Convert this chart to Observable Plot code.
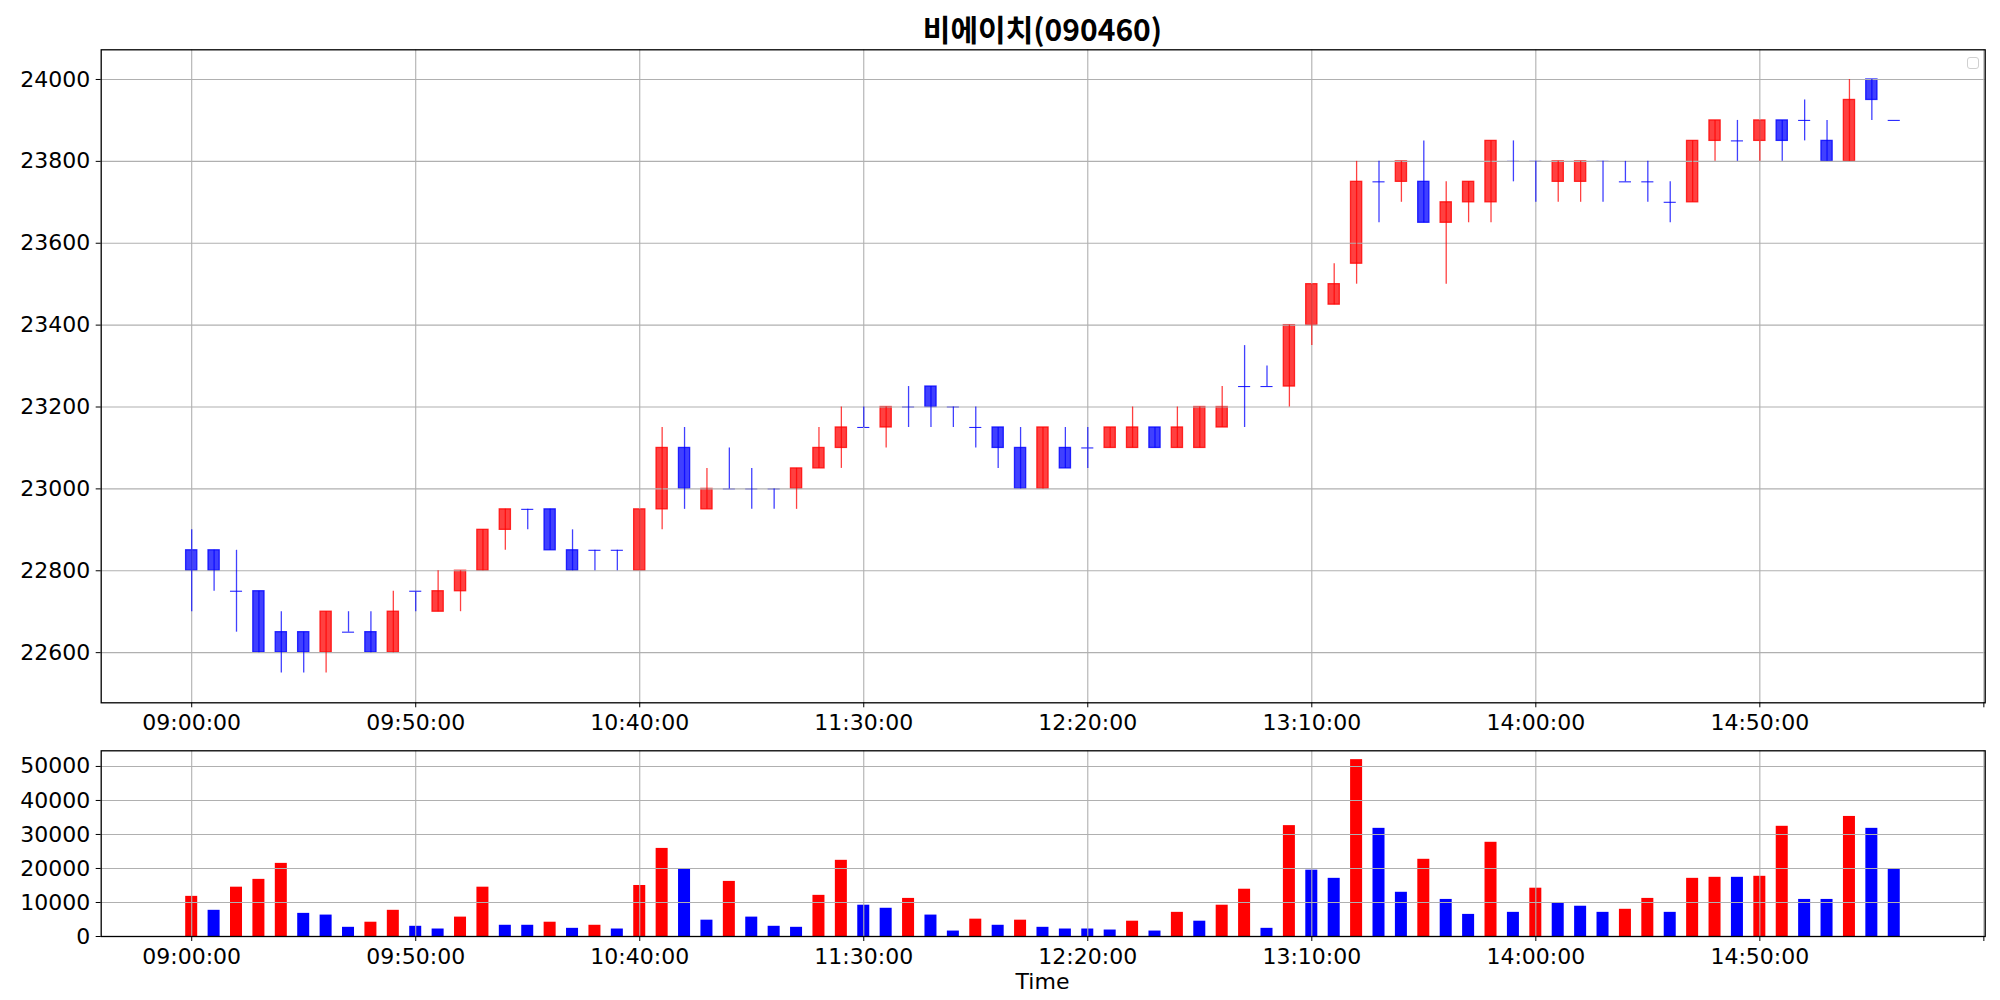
<!DOCTYPE html>
<html>
<head>
<meta charset="utf-8">
<script src="https://cdn.jsdelivr.net/npm/d3@7"></script>
<script src="https://cdn.jsdelivr.net/npm/@observablehq/plot@0.6"></script>
<style>
  html, body { margin: 0; padding: 0; width: 2000px; height: 1000px; overflow: hidden; background: #fff; }
  #wrap { position: relative; width: 2000px; height: 1000px; }
  #title { position: absolute; z-index: 5; left: 0; width: 2085px; top: 8px; text-align: center;
           font-family: "Noto Sans CJK KR", sans-serif; font-weight: bold; font-size: 30px; line-height: 40px; color: #000; }
  #xlabel { position: absolute; z-index: 5; left: 0; width: 2085px; top: 969px; text-align: center;
            font-family: "DejaVu Sans", sans-serif; font-size: 22px; color: #000; }
  #legend { position: absolute; z-index: 5; left: 1967px; top: 57px; width: 10px; height: 10px;
            border: 1px solid #d0d0d0; border-radius: 3px; background: #fff; }
  .panel { position: absolute; left: 0; z-index: 1; }
</style>
</head>
<body>
<div id="wrap">
  <div id="p1" class="panel" style="top:0px"></div>
  <div id="p2" class="panel" style="top:745px"></div>
  <div id="title">비에이치(090460)</div>
  <div id="legend"></div>
  <div id="xlabel">Time</div>
</div>
<script>
// ---- data (5-minute candles) ----
const times = ["09:00","09:05","09:10","09:15","09:20","09:25","09:30","09:35","09:40","09:45",
  "09:50","09:55","10:00","10:05","10:10","10:15","10:20","10:25","10:30","10:35",
  "10:40","10:45","10:50","10:55","11:00","11:05","11:10","11:15","11:20","11:25",
  "11:30","11:35","11:40","11:45","11:50","11:55","12:00","12:05","12:10","12:15",
  "12:20","12:25","12:30","12:35","12:40","12:45","12:50","12:55","13:00","13:05",
  "13:10","13:15","13:20","13:25","13:30","13:35","13:40","13:45","13:50","13:55",
  "14:00","14:05","14:10","14:15","14:20","14:25","14:30","14:35","14:40","14:45",
  "14:50","14:55","15:00","15:05","15:10","15:15","15:20"];
const open = [22850,22850,22750,22750,22650,22650,22600,22650,22650,22600,
  22750,22700,22750,22800,22900,22950,22950,22850,22850,22850,
  22800,22950,23100,22950,23000,23000,23000,23000,23050,23100,
  23150,23150,23200,23250,23200,23150,23150,23100,23000,23100,
  23100,23100,23100,23150,23100,23100,23150,23250,23250,23250,
  23400,23450,23550,23750,23750,23750,23650,23700,23700,23800,
  23800,23750,23750,23800,23750,23750,23700,23700,23850,23850,
  23850,23900,23900,23850,23800,24000,23900];
const high = [22900,22850,22850,22750,22700,22650,22700,22700,22700,22750,
  22750,22800,22800,22900,22950,22950,22950,22900,22850,22850,
  22950,23150,23150,23050,23100,23050,23000,23050,23150,23200,
  23200,23200,23250,23250,23200,23200,23150,23150,23150,23150,
  23150,23150,23200,23150,23200,23200,23250,23350,23300,23400,
  23500,23550,23800,23800,23800,23850,23750,23750,23850,23850,
  23800,23800,23800,23800,23800,23800,23750,23850,23900,23900,
  23900,23900,23950,23900,24000,24000,23900];
const low = [22700,22750,22650,22600,22550,22550,22550,22650,22600,22600,
  22700,22700,22700,22800,22850,22900,22850,22800,22800,22800,
  22800,22900,22950,22950,23000,22950,22950,22950,23050,23050,
  23150,23100,23150,23150,23150,23100,23050,23000,23000,23050,
  23050,23100,23100,23100,23100,23100,23150,23150,23250,23200,
  23350,23450,23500,23650,23700,23650,23500,23650,23650,23750,
  23700,23700,23700,23700,23750,23700,23650,23700,23800,23800,
  23800,23800,23850,23800,23800,23900,23900];
const close = [22800,22800,22750,22600,22600,22600,22700,22650,22600,22700,
  22750,22750,22800,22900,22950,22950,22850,22800,22850,22850,
  22950,23100,23000,23000,23000,23000,23000,23050,23100,23150,
  23150,23200,23200,23200,23200,23150,23100,23000,23150,23050,
  23100,23150,23150,23100,23150,23200,23200,23250,23250,23400,
  23500,23500,23750,23750,23800,23650,23700,23750,23850,23800,
  23800,23800,23800,23800,23750,23750,23700,23850,23900,23850,
  23900,23850,23900,23800,23950,23950,23900];
const volume = [11800,7700,14500,16800,21500,6800,6300,2700,4200,7700,
  3000,2200,5700,14500,3300,3300,4200,2400,3300,2200,
  15000,25900,19700,4800,16200,5700,3000,2700,12100,22400,
  9200,8300,11200,6300,1600,5100,3300,4800,2700,2200,
  2200,1900,4500,1600,7100,4500,9200,13900,2400,32600,
  19500,17100,52000,31800,13000,22700,10900,6500,27700,7100,
  14200,9800,8900,7100,8000,11200,7100,17100,17400,17400,
  17700,32400,10900,10900,35300,31800,19700];

// ---- ticks ----
const timeTicks = ["09:00","09:50","10:40","11:30","12:20","13:10","14:00","14:50","15:40"];
const timeTickLabels = ["09:00:00","09:50:00","10:40:00","11:30:00","12:20:00","13:10:00","14:00:00","14:50:00",""];
const priceTicks = [22600,22800,23000,23200,23400,23600,23800,24000];
const volumeTicks = [0,10000,20000,30000,40000,50000];

// ---- helpers ----
const toDate = (s, sec = 0) => { const [h, m] = s.split(":").map(Number); return new Date(Date.UTC(2021, 0, 4, h, m, sec)); };
const shift = (d, min) => new Date(+d + min * 60000);
const labelMap = new Map(timeTicks.map((t, i) => [+toDate(t), timeTickLabels[i]]));
const tickDates = timeTicks.map(t => toDate(t));
const xDomain = [toDate("08:39", 48), toDate("15:40", 18)];

const candles = times.map((t, i) => ({
  t: toDate(t), o: open[i], h: high[i], l: low[i], c: close[i],
  col: close[i] > open[i] ? "#ff0000" : "#0000ff"
}));
const bars = times.map((t, i) => ({
  t: toDate(t), v: volume[i],
  col: i === 0 || volume[i] > volume[i - 1] ? "#ff0000" : "#0000ff"
}));

const HB = 1.25; // half body width (minutes)
const HV = 1.34; // half volume bar width (minutes)
const gridStyle = { stroke: "#b0b0b0", strokeOpacity: 1, strokeWidth: 1.1 };
const fontStyle = { fontFamily: "DejaVu Sans, sans-serif", fontSize: "22px", color: "#000", background: "transparent" };

const p1 = Plot.plot({
  width: 2000, height: 745,
  marginTop: 49.3, marginBottom: 42.7, marginLeft: 100.7, marginRight: 15.3,
  style: fontStyle,
  x: { type: "utc", domain: xDomain },
  y: { domain: [22477.5, 24072.5] },
  color: { type: "identity" },
  marks: [
    Plot.rect(candles.filter(d => d.o !== d.c), {
      x1: d => shift(d.t, -HB), x2: d => shift(d.t, HB), y1: "o", y2: "c",
      fill: "col", fillOpacity: 0.75, stroke: "col", strokeOpacity: 0.8, strokeWidth: 1.3
    }),
    Plot.ruleY(candles.filter(d => d.o === d.c), {
      x1: d => shift(d.t, -HB - 0.1), x2: d => shift(d.t, HB + 0.1), y: "o",
      stroke: "col", strokeOpacity: 0.85, strokeWidth: 1.1
    }),
    Plot.gridX(tickDates, gridStyle),
    Plot.gridY(priceTicks, gridStyle),
    Plot.ruleX(candles, { x: "t", y1: "l", y2: "h", stroke: "col", strokeOpacity: 0.75, strokeWidth: 1.3 }),
    Plot.frame({ stroke: "#000", strokeWidth: 1.3 }),
    Plot.axisX(tickDates, { anchor: "bottom", tickSize: 5, tickPadding: 7, tickFormat: d => labelMap.get(+d) ?? "", label: null, fontSize: 22 }),
    Plot.axisY(priceTicks, { anchor: "left", tickSize: 5, tickPadding: 6, tickFormat: d => String(d), label: null, fontSize: 22 })
  ]
});
document.getElementById("p1").appendChild(p1);

const p2 = Plot.plot({
  width: 2000, height: 255,
  marginTop: 5.3, marginBottom: 64, marginLeft: 100.7, marginRight: 15.3,
  style: fontStyle,
  x: { type: "utc", domain: xDomain },
  y: { domain: [0, 54600] },
  color: { type: "identity" },
  marks: [
    Plot.rect(bars, { x1: d => shift(d.t, -HV), x2: d => shift(d.t, HV), y1: 0, y2: "v", fill: "col" }),
    Plot.gridX(tickDates, gridStyle),
    Plot.gridY(volumeTicks, gridStyle),
    Plot.frame({ stroke: "#000", strokeWidth: 1.3 }),
    Plot.axisX(tickDates, { anchor: "bottom", tickSize: 5, tickPadding: 7, tickFormat: d => labelMap.get(+d) ?? "", label: null, fontSize: 22 }),
    Plot.axisY(volumeTicks, { anchor: "left", tickSize: 5, tickPadding: 6, tickFormat: d => String(d), label: null, fontSize: 22 })
  ]
});
document.getElementById("p2").appendChild(p2);
</script>
</body>
</html>
